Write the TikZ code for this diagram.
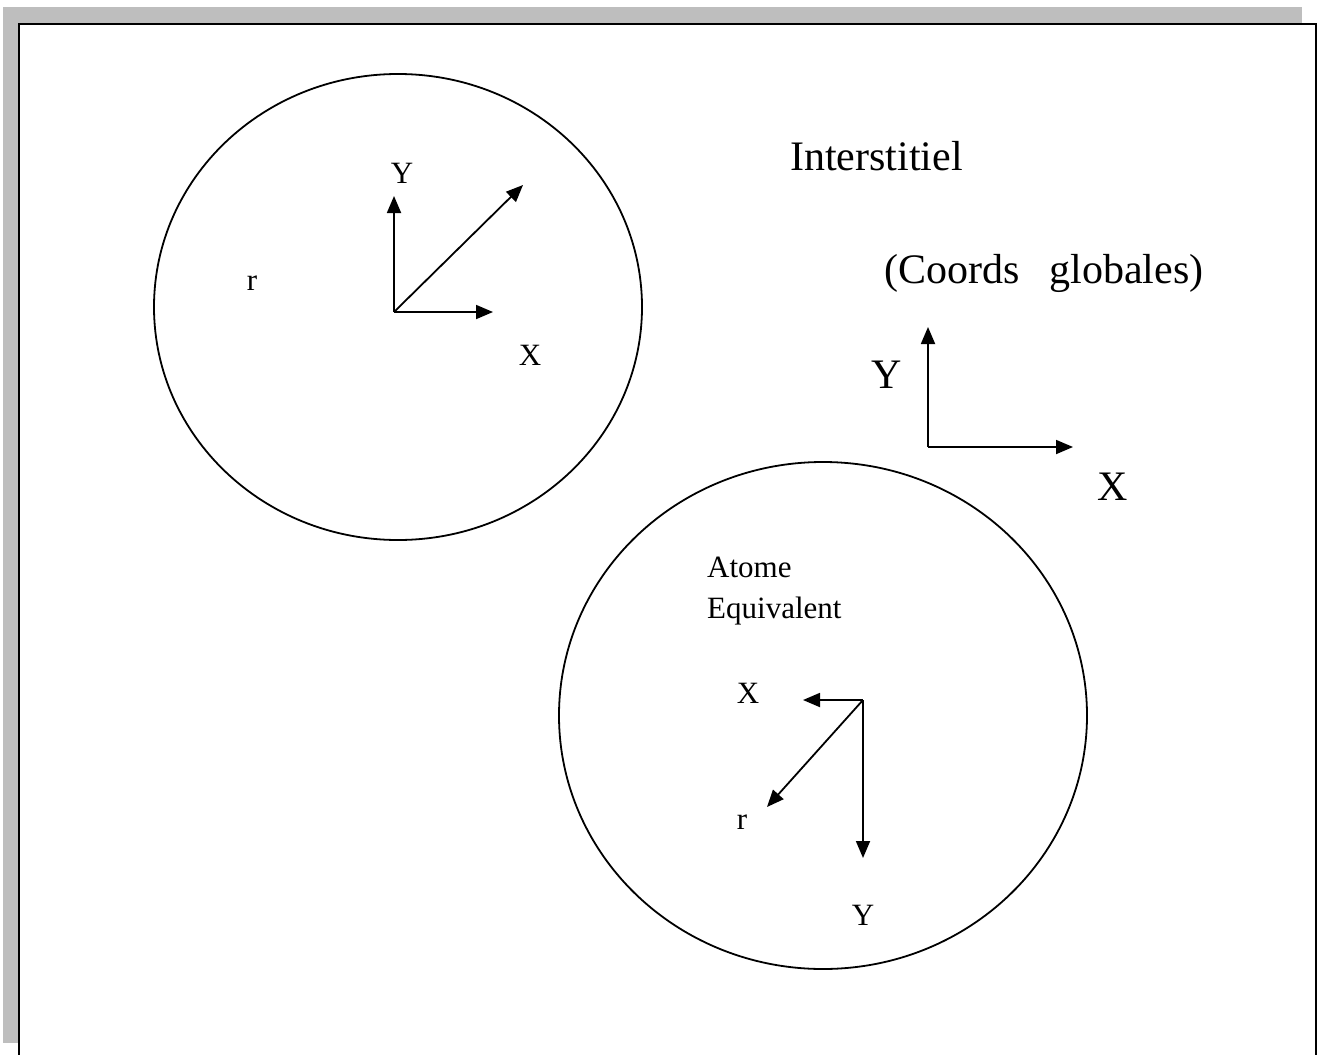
\documentclass[tikz,border=0pt]{standalone}
\usepackage{fontspec}
\setmainfont{Liberation Serif}
\usetikzlibrary{arrows.meta}
\tikzset{
  axis/.style={line width=1.8pt,-{Triangle[length=17pt,width=14pt]}},
  ring/.style={line width=1.8pt},
  small/.style={font=\fontsize{31}{36}\selectfont,inner sep=0pt},
  big/.style={font=\fontsize{42}{48}\selectfont,inner sep=0pt},
}
\begin{document}
\begin{tikzpicture}[x=1pt,y=-1pt]
\useasboundingbox (0,0) rectangle (1318,1055);
\clip (0,0) rectangle (1318,1055);
\fill[white] (0,0) rectangle (1318,1055);
% shadow and frame
\fill[fill={rgb,255:red,190;green,190;blue,190}] (3,7) rectangle (1302,1043);
\draw[line width=2.5pt,fill=white] (19,24) rectangle (1316,1070);
% circles
\draw[ring] (398,307) ellipse [x radius=244, y radius=233];
\draw[ring] (823,715.5) ellipse [x radius=264, y radius=253.5];
% local axes 1
\coordinate (o1) at (394,312);
\coordinate (y1) at (394,196);
\coordinate (x1) at (493,312);
\coordinate (r1) at (523,185);
\draw[axis] (o1) -- (y1);
\draw[axis] (o1) -- (x1);
\draw[axis] (o1) -- (r1);
\node[small,anchor=base] (ly1) at (402,183) {Y};
\node[small,anchor=base] (lr1) at (252,290) {r};
\node[small,anchor=base] (lx1) at (530,365) {X};
% global axes
\coordinate (og) at (928,447);
\coordinate (yg) at (928,327);
\coordinate (xg) at (1073,447);
\draw[axis] (og) -- (yg);
\draw[axis] (og) -- (xg);
\node[big,anchor=base] (lyg) at (887,388) {Y};
\node[big,anchor=base] (lxg) at (1113,500) {X};
\node[big,anchor=base west] (inter) at (790,170) {Interstitiel};
\node[big,anchor=base west] (coords) at (884,283) {(Coords\hspace{30pt}globales)};
% local axes 2
\coordinate (o2) at (863,700);
\coordinate (x2) at (803,700);
\coordinate (y2) at (863,858);
\coordinate (r2) at (767,807);
\draw[axis] (o2) -- (x2);
\draw[axis] (o2) -- (y2);
\draw[axis] (o2) -- (r2);
\node[small,anchor=base] (lx2) at (748,703) {X};
\node[small,anchor=base] (lr2) at (742,829) {r};
\node[small,anchor=base] (ly2) at (863,925) {Y};
\node[small,anchor=base west] (atome) at (707,577) {Atome};
\node[small,anchor=base west] (equiv) at (707,618) {Equivalent};
\end{tikzpicture}
\end{document}
